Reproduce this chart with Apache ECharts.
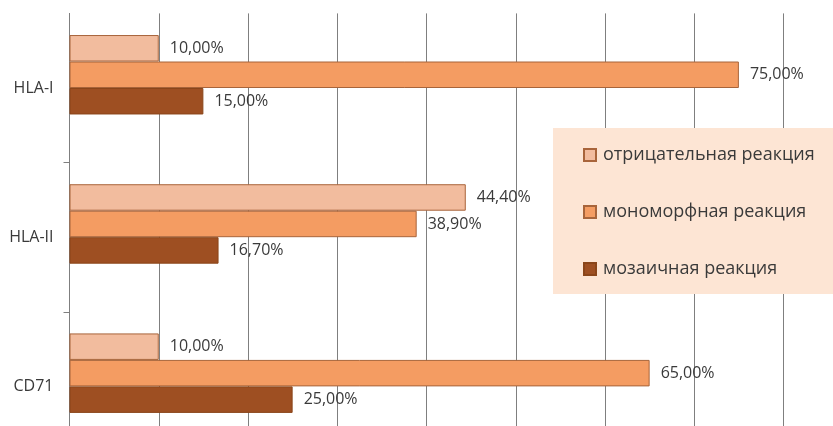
<!DOCTYPE html>
<html>
<head>
<meta charset="utf-8">
<script src="https://cdn.jsdelivr.net/npm/echarts@6/dist/echarts.min.js"></script>
<style>
html,body{margin:0;padding:0;background:#fff;}
#c{width:833px;height:426px;}
</style>
</head>
<body>
<div id="c"></div>
<script>
const categories = ['HLA-I', 'HLA-II', 'CD71'];
const seriesNames = ['отрицательная реакция', 'мономорфная реакция', 'мозаичная реакция'];
const negative = [10.0, 44.4, 10.0];
const monomorphic = [75.0, 38.9, 65.0];
const mosaic = [15.0, 16.7, 25.0];
const emptySlot = [null, null, null];
const xTicks = [0, 10, 20, 30, 40, 50, 60, 70, 80];

const colors = ['#f2bc9e', '#f49c62', '#9e4f22'];
const borders = ['#a8643a', '#a8643a', '#8a4519'];

const fmt = p => p.value.toFixed(2).replace('.', ',') + '%';

function barSeries(name, data, i) {
  return {
    name: name,
    type: 'bar',
    data: data,
    barGap: '0%',
    barCategoryGap: '29%',
    itemStyle: { color: colors[i], borderColor: borders[i], borderWidth: 1 },
    label: {
      show: true, position: 'right', distance: 11,
      formatter: fmt, color: '#3a3a3a', fontSize: 16,
      fontFamily: 'Open Sans'
    },
    emphasis: { disabled: true }
  };
}

const chart = echarts.init(document.getElementById('c'));
chart.setOption({
  animation: false,
  backgroundColor: '#ffffff',
  textStyle: { fontFamily: 'Open Sans' },
  grid: { left: 69.5, right: 49.5, top: 13.4, bottom: -35, outerBoundsMode: 'none', containLabel: false },
  xAxis: {
    type: 'value',
    min: xTicks[0], max: xTicks[xTicks.length - 1], interval: xTicks[1] - xTicks[0],
    axisLine: { show: false },
    axisTick: { show: false },
    axisLabel: { show: false },
    splitLine: { show: true, lineStyle: { color: '#7f7f7f', width: 1 } }
  },
  yAxis: {
    type: 'category',
    data: categories,
    inverse: true,
    axisLine: { show: true, lineStyle: { color: '#7f7f7f', width: 1 } },
    axisTick: { show: true, length: 6, interval: (i) => i !== 0, lineStyle: { color: '#7f7f7f' } },
    axisLabel: { margin: 16, color: '#3a3a3a', fontSize: 16, fontFamily: 'Open Sans' },
    splitLine: { show: false }
  },
  legend: {
    data: seriesNames,
    orient: 'vertical',
    icon: 'rect',
    left: 553, top: 128,
    padding: [18, 60, 16, 30],
    itemGap: 39,
    itemWidth: 12, itemHeight: 12,
    backgroundColor: '#fde5d4',
    selectedMode: false,
    textStyle: { color: '#3a3a3a', fontSize: 18, fontFamily: 'Open Sans', padding: [0, 0, 0, 2] }
  },
  series: [
    barSeries(seriesNames[0], negative, 0),
    barSeries(seriesNames[1], monomorphic, 1),
    barSeries(seriesNames[2], mosaic, 2),
    { name: '', type: 'bar', data: emptySlot, barGap: '0%', barCategoryGap: '29%', silent: true }
  ]
});
</script>
</body>
</html>
